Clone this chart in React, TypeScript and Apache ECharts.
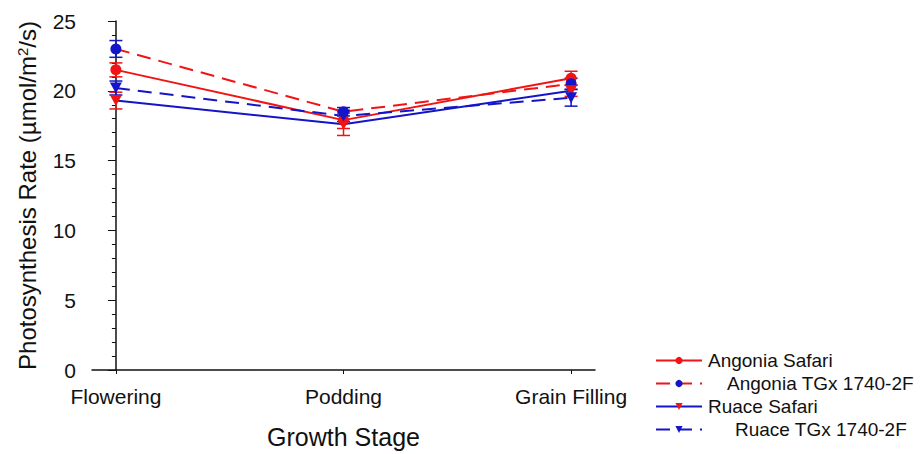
import React, { useEffect, useRef } from "react";
import * as echarts from "echarts";

const categories = ["Flowering", "Podding", "Grain Filling"];
const seriesNames = ["Angonia Safari", "Angonia TGx 1740-2F", "Ruace Safari", "Ruace TGx 1740-2F"];
const angoniaSafari = [21.5, 17.9, 20.9];
const angoniaSafariErr = [0.5, 0.6, 0.5];
const angoniaTGx = [23.0, 18.5, 20.5];
const angoniaTGxErr = [0.6, 0.3, 0.4];
const ruaceSafari = [19.3, 17.6, 20.0];
const ruaceSafariErr = [0.6, 0.8, 0.4];
const ruaceTGx = [20.2, 18.2, 19.5];
const ruaceTGxErr = [0.5, 0.4, 0.6];
const yTicks = [0, 5, 10, 15, 20, 25];

const RED = "#f01414";
const BLUE = "#1414c8";
const TRI_DOWN = "path://M0,0 L10,0 L5,9 Z";
const FONT = "Liberation Sans, Arial, sans-serif";

type Spec = {
  name: string;
  values: number[];
  errs: number[];
  lineColor: string;
  markerColor: string;
  dashed: boolean;
  symbol: string;
};

const specs: Spec[] = [
  { name: seriesNames[0], values: angoniaSafari, errs: angoniaSafariErr, lineColor: RED, markerColor: RED, dashed: false, symbol: "circle" },
  { name: seriesNames[1], values: angoniaTGx, errs: angoniaTGxErr, lineColor: RED, markerColor: BLUE, dashed: true, symbol: "circle" },
  { name: seriesNames[2], values: ruaceSafari, errs: ruaceSafariErr, lineColor: BLUE, markerColor: RED, dashed: false, symbol: TRI_DOWN },
  { name: seriesNames[3], values: ruaceTGx, errs: ruaceTGxErr, lineColor: BLUE, markerColor: BLUE, dashed: true, symbol: TRI_DOWN },
];

const legendRows = [
  { top: 346, pad: 1 },
  { top: 369, pad: 20 },
  { top: 392, pad: 1 },
  { top: 415, pad: 28 },
];

export default function App() {
  const ref = useRef<HTMLDivElement>(null);
  useEffect(() => {
    if (!ref.current) return;
    const chart = echarts.init(ref.current, null, { renderer: "svg" });

    const errorSeries = specs.map((s, si) => ({
      type: "custom",
      name: "err" + si,
      z: 1,
      encode: { x: 0, y: 1 },
      data: s.values.map((v, i) => [i, v, s.errs[i]]),
      renderItem: (params: any, api: any) => {
        const x = api.value(0);
        const y = api.value(1);
        const e = api.value(2);
        const top = api.coord([x, y + e]);
        const bot = api.coord([x, y - e]);
        const hw = 6.5;
        const style = { stroke: s.markerColor, lineWidth: 1.5 };
        return {
          type: "group",
          children: [
            { type: "line", shape: { x1: top[0], y1: top[1], x2: bot[0], y2: bot[1] }, style },
            { type: "line", shape: { x1: top[0] - hw, y1: top[1], x2: top[0] + hw, y2: top[1] }, style },
            { type: "line", shape: { x1: bot[0] - hw, y1: bot[1], x2: bot[0] + hw, y2: bot[1] }, style },
          ],
        };
      },
    }));

    const lineSeries = specs.map((s) => ({
      type: "line",
      name: s.name,
      z: 3,
      data: s.values.map((v, i) => [i, v]),
      symbol: s.symbol,
      symbolSize: s.symbol === "circle" ? 11 : [12, 11],
      showSymbol: true,
      lineStyle: { color: s.lineColor, width: 2, type: s.dashed ? [14, 8] : "solid" },
      itemStyle: { color: s.markerColor, borderWidth: 0 },
    }));

    const legends = specs.map((s, i) => ({
      data: [s.name],
      left: 650,
      top: legendRows[i].top,
      itemWidth: 46,
      itemHeight: 9,
      selectedMode: false,
      textStyle: { fontSize: 19, fontFamily: FONT, color: "#111", padding: [0, 0, 0, legendRows[i].pad] },
    }));

    chart.setOption({
      animation: false,
      backgroundColor: "#fff",
      textStyle: { fontFamily: FONT },
      grid: { left: 92, top: 21, width: 503, height: 351, containLabel: false },
      legend: legends,
      xAxis: {
        type: "value",
        min: -0.105,
        max: 2.105,
        name: "Growth Stage",
        nameLocation: "middle",
        nameGap: 54,
        nameTextStyle: { fontSize: 25, color: "#111", fontFamily: FONT },
        axisLine: { show: true, onZero: false, lineStyle: { color: "#111", width: 1.5 } },
        axisTick: { show: true, customValues: [0, 1, 2], length: 4, lineStyle: { color: "#111" } },
        axisLabel: {
          customValues: [0, 1, 2],
          formatter: (v: number) => categories[Math.round(v)],
          fontSize: 21,
          color: "#111",
          margin: 16,
          fontFamily: FONT,
        },
        splitLine: { show: false },
      },
      yAxis: {
        type: "value",
        min: 0,
        max: 25,
        interval: 5,
        name: "Photosynthesis Rate (µmol/m{sup|2}/s)",
        nameLocation: "middle",
        nameRotate: 90,
        nameGap: 52,
        nameTextStyle: {
          fontSize: 24,
          color: "#111",
          fontFamily: FONT,
          rich: { sup: { fontSize: 15, color: "#111", fontFamily: FONT, verticalAlign: "top", padding: [0, 0, 10, 0] } },
        },
        axisLine: { show: true, lineStyle: { color: "#111", width: 1.5 } },
        axisTick: { show: true, length: 8, lineStyle: { color: "#111" } },
        minorTick: { show: true, splitNumber: 5, length: 4, lineStyle: { color: "#111" } },
        axisLabel: {
          fontSize: 21,
          color: "#111",
          margin: 16,
          fontFamily: FONT,
          customValues: yTicks,
        },
        splitLine: { show: false },
        minorSplitLine: { show: false },
      },
      series: [...errorSeries, ...lineSeries],
    });
    return () => chart.dispose();
  }, []);
  return (
    <div
      ref={ref}
      style={{ position: "fixed", left: 0, top: 0, width: 920, height: 454, background: "#fff" }}
    />
  );
}
